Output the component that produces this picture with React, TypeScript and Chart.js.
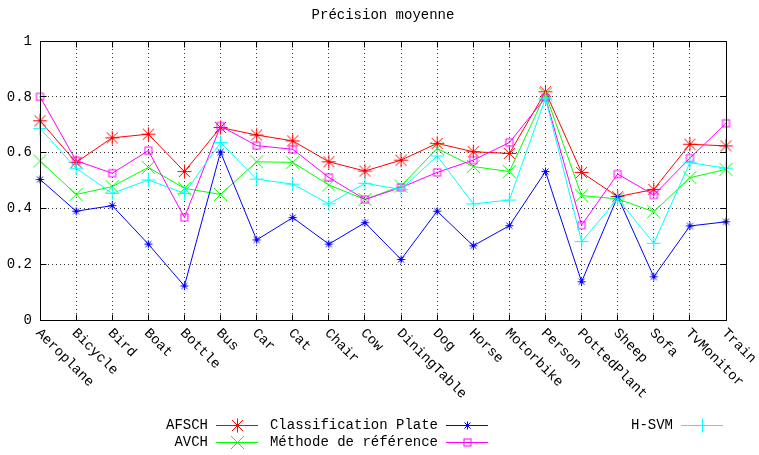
import React, { useEffect, useRef } from 'react';
import { Chart, registerables } from 'chart.js';

Chart.register(...registerables);

const title = 'Précision moyenne';
const categories = [
  'Aeroplane', 'Bicycle', 'Bird', 'Boat', 'Bottle', 'Bus', 'Car', 'Cat', 'Chair', 'Cow',
  'DiningTable', 'Dog', 'Horse', 'Motorbike', 'Person', 'PottedPlant', 'Sheep', 'Sofa', 'TvMonitor', 'Train',
];
const afsch = [0.714, 0.565, 0.653, 0.666, 0.532, 0.690, 0.663, 0.642, 0.567, 0.534, 0.573, 0.633, 0.603, 0.597, 0.818, 0.529, 0.442, 0.468, 0.630, 0.624];
const avch = [0.570, 0.450, 0.478, 0.547, 0.472, 0.450, 0.567, 0.565, 0.484, 0.432, 0.480, 0.615, 0.550, 0.532, 0.810, 0.446, 0.434, 0.388, 0.510, 0.540];
const classificationPlate = [0.504, 0.390, 0.410, 0.272, 0.122, 0.602, 0.287, 0.367, 0.272, 0.349, 0.217, 0.390, 0.266, 0.338, 0.532, 0.137, 0.442, 0.155, 0.337, 0.352];
const methodeReference = [0.800, 0.571, 0.526, 0.607, 0.368, 0.695, 0.625, 0.612, 0.511, 0.432, 0.475, 0.529, 0.573, 0.636, 0.797, 0.340, 0.523, 0.448, 0.580, 0.705];
const hsvm = [0.687, 0.544, 0.454, 0.502, 0.454, 0.636, 0.505, 0.487, 0.416, 0.490, 0.468, 0.588, 0.416, 0.430, 0.795, 0.281, 0.434, 0.275, 0.564, 0.544];
const yTickLabels = ['0', '0.2', '0.4', '0.6', '0.8', '1'];

const seriesLabels = ['AFSCH', 'AVCH', 'Classification Plate', 'Méthode de référence', 'H-SVM'];
const seriesData = [afsch, avch, classificationPlate, methodeReference, hsvm];
const seriesColors = ['#ff0000', '#00ff00', '#0000ff', '#ff00ff', '#00ffff'];
const seriesMarkers = ['star', 'x', 'smallstar', 'square', 'plus'];

const FONT = '"Liberation Mono", "DejaVu Sans Mono", monospace';
const FONT_SIZE = 14;

function makeMarker(kind: string, color: string): HTMLCanvasElement {
  const size = 17;
  const c = document.createElement('canvas');
  c.width = size;
  c.height = size;
  const ctx = c.getContext('2d')!;
  ctx.strokeStyle = color;
  ctx.fillStyle = color;
  ctx.lineWidth = 1;
  const m = 8.5;
  const line = (x1: number, y1: number, x2: number, y2: number) => {
    ctx.beginPath();
    ctx.moveTo(x1, y1);
    ctx.lineTo(x2, y2);
    ctx.stroke();
  };
  if (kind === 'star') {
    const r = 7, d = 5.5;
    line(m - r, m, m + r, m);
    line(m, m - r, m, m + r);
    line(m - d, m - d, m + d, m + d);
    line(m - d, m + d, m + d, m - d);
  } else if (kind === 'smallstar') {
    const r = 4, d = 3;
    line(m - r, m, m + r, m);
    line(m, m - r, m, m + r);
    line(m - d, m - d, m + d, m + d);
    line(m - d, m + d, m + d, m - d);
  } else if (kind === 'x') {
    const d = 6.5;
    line(m - d, m - d, m + d, m + d);
    line(m - d, m + d, m + d, m - d);
  } else if (kind === 'square') {
    ctx.strokeRect(m - 3.5 + 0.0, m - 3.5, 7, 7);
    ctx.fillRect(8, 8, 1, 1);
  } else if (kind === 'plus') {
    const r = 7;
    line(m - r, m, m + r, m);
    line(m, m - r, m, m + r);
  }
  return c;
}

const legendTextRight = [208, 438, 673];
const legendRows = [425, 442];

const overlayPlugin = {
  id: 'overlay',
  afterDraw(chart: any) {
    const { ctx, chartArea: a, scales } = chart;
    const al = (p: number) => Math.round(p - 0.5) + 0.5;
    ctx.save();
    ctx.strokeStyle = '#000';
    ctx.lineWidth = 1;
    ctx.setLineDash([]);
    const L = al(a.left), R = al(a.right), T = al(a.top), B = al(a.bottom);
    // tick marks (inward, mirrored)
    ctx.beginPath();
    categories.forEach((_, i) => {
      const x = al(scales.x.getPixelForValue(i));
      ctx.moveTo(x, B); ctx.lineTo(x, B - 6);
      ctx.moveTo(x, T); ctx.lineTo(x, T + 6);
    });
    yTickLabels.forEach((_, i) => {
      const y = al(scales.y.getPixelForValue(i * 0.2));
      ctx.moveTo(L, y); ctx.lineTo(L + 6, y);
      ctx.moveTo(R, y); ctx.lineTo(R - 6, y);
    });
    ctx.stroke();
    ctx.strokeRect(L, T, R - L, B - T);

    ctx.fillStyle = '#000';
    ctx.font = `${FONT_SIZE}px ${FONT}`;
    // title
    ctx.textAlign = 'center';
    ctx.textBaseline = 'middle';
    ctx.fillText(title, (a.left + a.right) / 2, 15);
    // rotated x labels
    ctx.textAlign = 'left';
    ctx.textBaseline = 'middle';
    categories.forEach((lab, i) => {
      const x = scales.x.getPixelForValue(i);
      ctx.save();
      ctx.translate(x - 2, a.bottom + 11);
      ctx.rotate(Math.PI / 4);
      ctx.fillText(lab, 0, 0);
      ctx.restore();
    });
    // legend
    chart.data.datasets.forEach((ds: any, i: number) => {
      const col = Math.floor(i / 2);
      const row = i % 2;
      const xr = legendTextRight[col];
      const y = legendRows[row];
      ctx.fillStyle = '#000';
      ctx.textAlign = 'right';
      ctx.textBaseline = 'middle';
      ctx.fillText(ds.label, xr, y);
      ctx.strokeStyle = ds.borderColor;
      ctx.beginPath();
      ctx.moveTo(xr + 8, y + 0.5);
      ctx.lineTo(xr + 50, y + 0.5);
      ctx.stroke();
      const img = ds.pointStyle as HTMLCanvasElement;
      ctx.drawImage(img, Math.round(xr + 29 - 8), Math.round(y - 8));
    });
    ctx.restore();
  },
};

export default function App() {
  const ref = useRef<HTMLCanvasElement | null>(null);
  useEffect(() => {
    if (!ref.current) return;
    const datasets = seriesLabels.map((label, i) => ({
      label,
      data: seriesData[i],
      borderColor: seriesColors[i],
      backgroundColor: seriesColors[i],
      borderWidth: 1,
      pointStyle: makeMarker(seriesMarkers[i], seriesColors[i]) as any,
      pointRadius: 6,
      tension: 0,
      fill: false,
      order: seriesLabels.length - i,
    }));
    const chart = new Chart(ref.current, {
      type: 'line',
      data: { labels: categories, datasets },
      options: {
        responsive: false,
        animation: false,
        layout: { padding: { left: 0, top: 41, right: 33, bottom: 0 } },
        plugins: {
          legend: { display: false },
          title: { display: false },
          tooltip: { enabled: false },
        },
        scales: {
          x: {
            type: 'category',
            offset: false,
            ticks: { display: false },
            grid: { color: 'rgba(0,0,0,0.8)', lineWidth: 1, drawTicks: false },
            border: { display: false, dash: [1, 3] },
            afterFit: (s: any) => { s.height = 135; },
          },
          y: {
            min: 0,
            max: 1,
            ticks: {
              stepSize: 0.2,
              color: '#000',
              font: { family: FONT, size: FONT_SIZE },
              padding: 8,
              callback: (v: any) => yTickLabels[Math.round(Number(v) * 5)],
            },
            grid: { color: 'rgba(0,0,0,0.8)', lineWidth: 1, drawTicks: false },
            border: { display: false, dash: [1, 3] },
            afterFit: (s: any) => { s.width = 40; },
          },
        },
      },
      plugins: [overlayPlugin],
    });
    return () => chart.destroy();
  }, []);
  return (
    <div style={{ position: 'absolute', left: 0, top: 0, width: 759, height: 455, background: '#fff' }}>
      <canvas ref={ref} width={759} height={455} style={{ display: 'block' }} />
    </div>
  );
}
